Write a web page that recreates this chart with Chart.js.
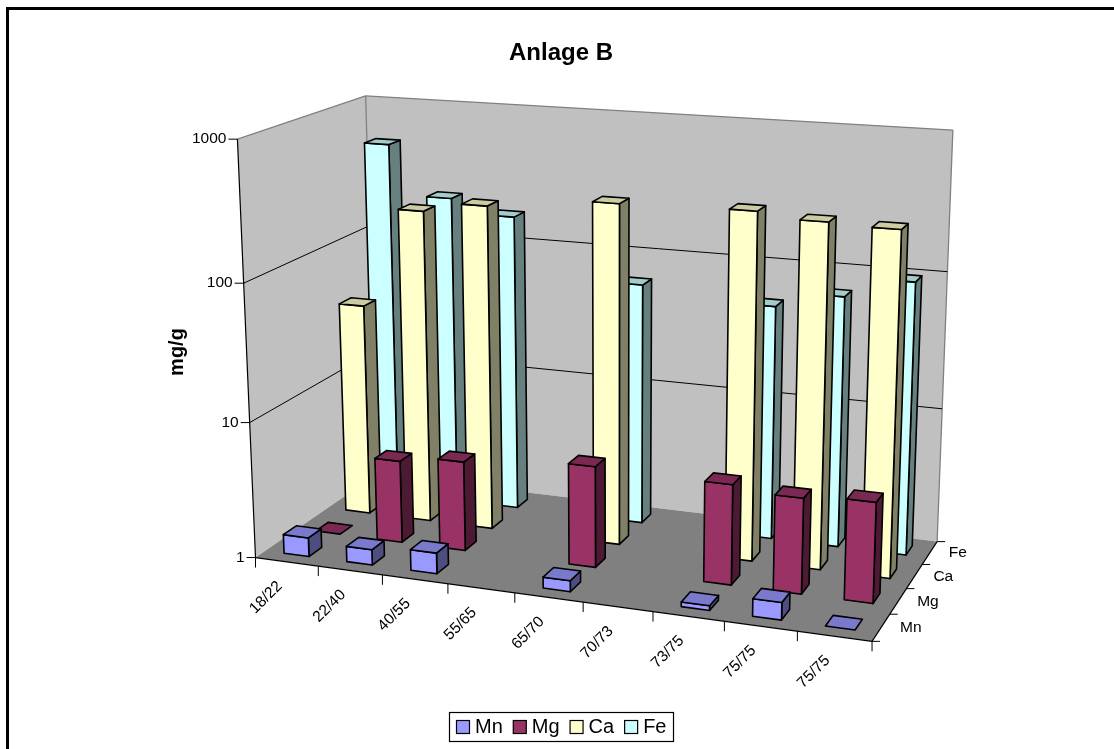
<!DOCTYPE html>
<html>
<head>
<meta charset="utf-8">
<title>Anlage B</title>
<script src="https://cdn.jsdelivr.net/npm/chart.js@4"></script>
<style>
  html, body { margin: 0; padding: 0; background: #fff; }
  canvas { display: block; }
</style>
</head>
<body>
<canvas id="chart" width="1114" height="749"></canvas>
<script>
// Data
const categories = ["18/22", "22/40", "40/55", "55/65", "65/70", "70/73", "73/75", "75/75", "75/75"];
const seriesNames = ["Mn", "Mg", "Ca", "Fe"];
const mnValues = [1.38, 1.3, 1.42, null, 1.2, null, 1.08, 1.33, 1];
const mgValues = [1, 4.1, 4.6, null, 5.5, null, 5.3, 4.85, 5.2];
const caValues = [39.5, 218, 258, null, 315, null, 328, 300, 290];
const feValues = [510, 217, 171, null, 64, null, 54, 70, 98];
const yTicks = [1, 10, 100, 1000];

// Colours: front, side, top
const faceColors = {
  Mn: ["#9999FF", "#4D4D80", "#7A7ACC"],
  Mg: ["#993366", "#4D1A33", "#7A2952"],
  Ca: ["#FFFFCC", "#808066", "#CCCCA3"],
  Fe: ["#CCFFFF", "#668080", "#A3CCCC"],
};

// Where the corners of the 3D box landed on screen: [u, v, w, x, y]
// u = along categories, v = up, w = into the depth
const boxCorners = [
  [0, 0, 0, 255, 558],
  [1, 0, 0, 872, 641],
  [1, 0, 1, 937, 542],
  [0, 0, 1, 377, 474],
  [0, 1, 0, 238, 139],
  [0, 1, 1, 365, 96],
  [1, 1, 1, 953, 130],
];
const BAR_FRAC = 0.4;
const BAR_LINE = 1.6;
const FONT = '"Liberation Sans", Arial, sans-serif';

// Least squares fit of a perspective camera to the corners
function fitCamera(pts) {
  const n = 11;
  const A = Array.from({ length: n }, () => new Array(n + 1).fill(0));
  const addRow = (row, rhs) => {
    for (let i = 0; i < n; i++) {
      for (let j = 0; j < n; j++) A[i][j] += row[i] * row[j];
      A[i][n] += row[i] * rhs;
    }
  };
  for (const [u, v, w, px, py] of pts) {
    const x = px / 1000, y = py / 1000;
    addRow([u, v, w, 1, 0, 0, 0, 0, -x * u, -x * v, -x * w], x);
    addRow([0, 0, 0, 0, u, v, w, 1, -y * u, -y * v, -y * w], y);
  }
  for (let i = 0; i < n; i++) {
    let best = i;
    for (let r = i + 1; r < n; r++) if (Math.abs(A[r][i]) > Math.abs(A[best][i])) best = r;
    [A[i], A[best]] = [A[best], A[i]];
    for (let r = 0; r < n; r++) {
      if (r === i) continue;
      const f = A[r][i] / A[i][i];
      for (let c = i; c <= n; c++) A[r][c] -= f * A[i][c];
    }
  }
  return A.map((row, i) => row[n] / row[i]);
}
const cam = fitCamera(boxCorners);
function project(u, v, w) {
  const d = cam[8] * u + cam[9] * v + cam[10] * w + 1;
  return {
    x: (1000 * (cam[0] * u + cam[1] * v + cam[2] * w + cam[3])) / d,
    y: (1000 * (cam[4] * u + cam[5] * v + cam[6] * w + cam[7])) / d,
  };
}

// Scale helpers: pixels in the hidden scales become 0..1 box coordinates
const uOf = (chart, i) => {
  const s = chart.scales.x;
  return (s.getPixelForValue(i) - s.left) / (s.right - s.left);
};
const vOf = (chart, val) => {
  const s = chart.scales.y;
  return (s.bottom - s.getPixelForValue(val)) / (s.bottom - s.top);
};
const wOf = (chart, i) => {
  const s = chart.scales.z;
  return (s.getPixelForValue(i) - s.left) / (s.right - s.left);
};

function poly(ctx, pts, fill, stroke, lw) {
  ctx.beginPath();
  pts.forEach((p, i) => (i ? ctx.lineTo(p.x, p.y) : ctx.moveTo(p.x, p.y)));
  ctx.closePath();
  if (fill) {
    ctx.fillStyle = fill;
    ctx.fill();
  }
  if (stroke) {
    ctx.strokeStyle = stroke;
    ctx.lineWidth = lw;
    ctx.stroke();
  }
}
function seg(ctx, a, b, color, lw) {
  ctx.beginPath();
  ctx.moveTo(a.x, a.y);
  ctx.lineTo(b.x, b.y);
  ctx.strokeStyle = color;
  ctx.lineWidth = lw;
  ctx.stroke();
}

// Walls, floor, grid, ticks and axis labels
const box3dPlugin = {
  id: "box3d",
  beforeDraw(chart) {
    const ctx = chart.ctx;
    ctx.save();
    ctx.fillStyle = "#fff";
    ctx.fillRect(0, 0, chart.width, chart.height);
    ctx.strokeStyle = "#000";
    ctx.lineWidth = 3;
    ctx.beginPath();
    ctx.moveTo(7.5, chart.height + 5);
    ctx.lineTo(7.5, 8.5);
    ctx.lineTo(chart.width + 5, 8.5);
    ctx.stroke();
    ctx.restore();
  },
  beforeDatasetsDraw(chart) {
    const ctx = chart.ctx;
    ctx.save();
    ctx.lineJoin = "round";
    const gray = "#808080";
    // left wall, back wall, floor
    poly(ctx, [project(0, 0, 0), project(0, 1, 0), project(0, 1, 1), project(0, 0, 1)], "#C0C0C0");
    poly(ctx, [project(0, 0, 1), project(0, 1, 1), project(1, 1, 1), project(1, 0, 1)], "#C0C0C0");
    poly(ctx, [project(0, 0, 0), project(1, 0, 0), project(1, 0, 1), project(0, 0, 1)], "#808080");
    seg(ctx, project(0, 1, 0), project(0, 1, 1), gray, 1.3);
    seg(ctx, project(0, 1, 1), project(1, 1, 1), gray, 1.3);
    seg(ctx, project(0, 1, 1), project(0, 0, 1), gray, 1.3);
    seg(ctx, project(1, 1, 1), project(1, 0, 1), gray, 1.3);
    // value grid on the walls and value ticks
    ctx.font = "15.5px " + FONT;
    ctx.fillStyle = "#000";
    ctx.textAlign = "right";
    ctx.textBaseline = "middle";
    for (const t of yTicks) {
      const v = vOf(chart, t);
      const a = project(0, v, 0), b = project(0, v, 1), c = project(1, v, 1);
      if (t > 1 && t < 1000) {
        seg(ctx, a, b, "#000", 1);
        seg(ctx, b, c, "#000", 1);
      }
      seg(ctx, a, { x: a.x - 9, y: a.y }, "#000", 1);
      ctx.fillStyle = "#000";
      ctx.fillText(String(t), a.x - 11, a.y);
    }
    seg(ctx, project(0, 0, 0), project(0, 1, 0), "#000", 1.2);
    seg(ctx, project(0, 0, 0), project(1, 0, 0), "#000", 1.2);
    seg(ctx, project(1, 0, 0), project(1, 0, 1), "#000", 1.2);
    // category ticks and rotated labels
    categories.forEach((label, i) => {
      const p = project(i / categories.length, 0, 0);
      seg(ctx, p, { x: p.x, y: p.y + 10 }, "#000", 1);
      const mid = project(uOf(chart, i), 0, 0);
      ctx.save();
      ctx.translate(mid.x - 7, mid.y + 22);
      ctx.rotate(-Math.PI / 4);
      ctx.textAlign = "right";
      ctx.textBaseline = "middle";
      ctx.fillStyle = "#000";
      ctx.fillText(label, 0, 0);
      ctx.restore();
    });
    seg(ctx, project(1, 0, 0), { x: project(1, 0, 0).x, y: project(1, 0, 0).y + 10 }, "#000", 1);
    // depth ticks and labels
    for (let j = 0; j <= seriesNames.length; j++) {
      const p = project(1, 0, j / seriesNames.length);
      seg(ctx, p, { x: p.x + 8, y: p.y }, "#000", 1);
    }
    ctx.textAlign = "left";
    seriesNames.forEach((name, j) => {
      const p = project(1, 0, wOf(chart, j));
      ctx.fillStyle = "#000";
      ctx.fillText(name, p.x + 19, p.y);
    });
    // value axis title
    ctx.save();
    ctx.translate(177, 352);
    ctx.rotate(-Math.PI / 2);
    ctx.font = "bold 20px " + FONT;
    ctx.textAlign = "center";
    ctx.fillText("mg/g", 0, 0);
    ctx.restore();
    ctx.restore();
  },
  // Each series is drawn as 3D boxes; Chart.js walks datasets last to first
  beforeDatasetDraw(chart, args) {
    const ds = chart.data.datasets[args.index];
    const ctx = chart.ctx;
    const [front, side, top] = faceColors[ds.label];
    const du = (BAR_FRAC / categories.length) / 2;
    const dw = (BAR_FRAC / seriesNames.length) / 2;
    const wc = wOf(chart, args.index);
    ctx.save();
    ctx.lineJoin = "round";
    ds.data.forEach((val, i) => {
      if (val === null) return;
      const uc = uOf(chart, i);
      const v = vOf(chart, val);
      const u0 = uc - du, u1 = uc + du, w0 = wc - dw, w1 = wc + dw;
      if (v > 0) {
        poly(ctx, [project(u1, 0, w0), project(u1, v, w0), project(u1, v, w1), project(u1, 0, w1)], side, "#000", BAR_LINE);
        poly(ctx, [project(u0, 0, w0), project(u1, 0, w0), project(u1, v, w0), project(u0, v, w0)], front, "#000", BAR_LINE);
      }
      poly(ctx, [project(u0, v, w0), project(u1, v, w0), project(u1, v, w1), project(u0, v, w1)], top, "#000", BAR_LINE);
    });
    ctx.restore();
    return false;
  },
  // Legend by hand: the built-in one keeps too wide a gap after the swatch
  afterDraw(chart) {
    const ctx = chart.ctx;
    ctx.save();
    ctx.strokeStyle = "#000";
    ctx.lineWidth = 1.2;
    ctx.strokeRect(449.5, 712.5, 224, 29);
    ctx.font = "20px " + FONT;
    ctx.textAlign = "left";
    ctx.textBaseline = "middle";
    let x = 456;
    chart.data.datasets.forEach((ds) => {
      ctx.fillStyle = ds.backgroundColor;
      ctx.fillRect(x + 0.5, 720.5, 13, 13);
      ctx.lineWidth = 1.2;
      ctx.strokeRect(x + 0.5, 720.5, 13, 13);
      ctx.fillStyle = "#000";
      ctx.fillText(ds.label, x + 19, 727.5);
      x += 19 + ctx.measureText(ds.label).width + 10;
    });
    ctx.restore();
  },
};

const allValues = [mnValues, mgValues, caValues, feValues];
new Chart(document.getElementById("chart"), {
  type: "bar",
  data: {
    labels: categories,
    datasets: seriesNames.map((name, i) => ({
      label: name,
      data: allValues[i],
      backgroundColor: faceColors[name][0],
      borderColor: "#000",
      borderWidth: 1,
      xAxisID: "x",
      yAxisID: "y",
    })),
  },
  options: {
    responsive: false,
    animation: false,
    layout: { padding: { left: 8, right: 0, top: 0, bottom: 1 } },
    plugins: {
      title: {
        display: true,
        text: "Anlage B",
        color: "#000",
        font: { family: FONT, size: 24, weight: "bold" },
        padding: { top: 39, bottom: 10 },
      },
      legend: { display: false },
      tooltip: { enabled: false },
    },
    scales: {
      x: { type: "category", display: false, offset: true },
      y: { type: "logarithmic", display: false, min: 1, max: 1000 },
      z: { type: "category", axis: "x", display: false, offset: true, labels: seriesNames },
    },
  },
  plugins: [box3dPlugin],
});
</script>
</body>
</html>
